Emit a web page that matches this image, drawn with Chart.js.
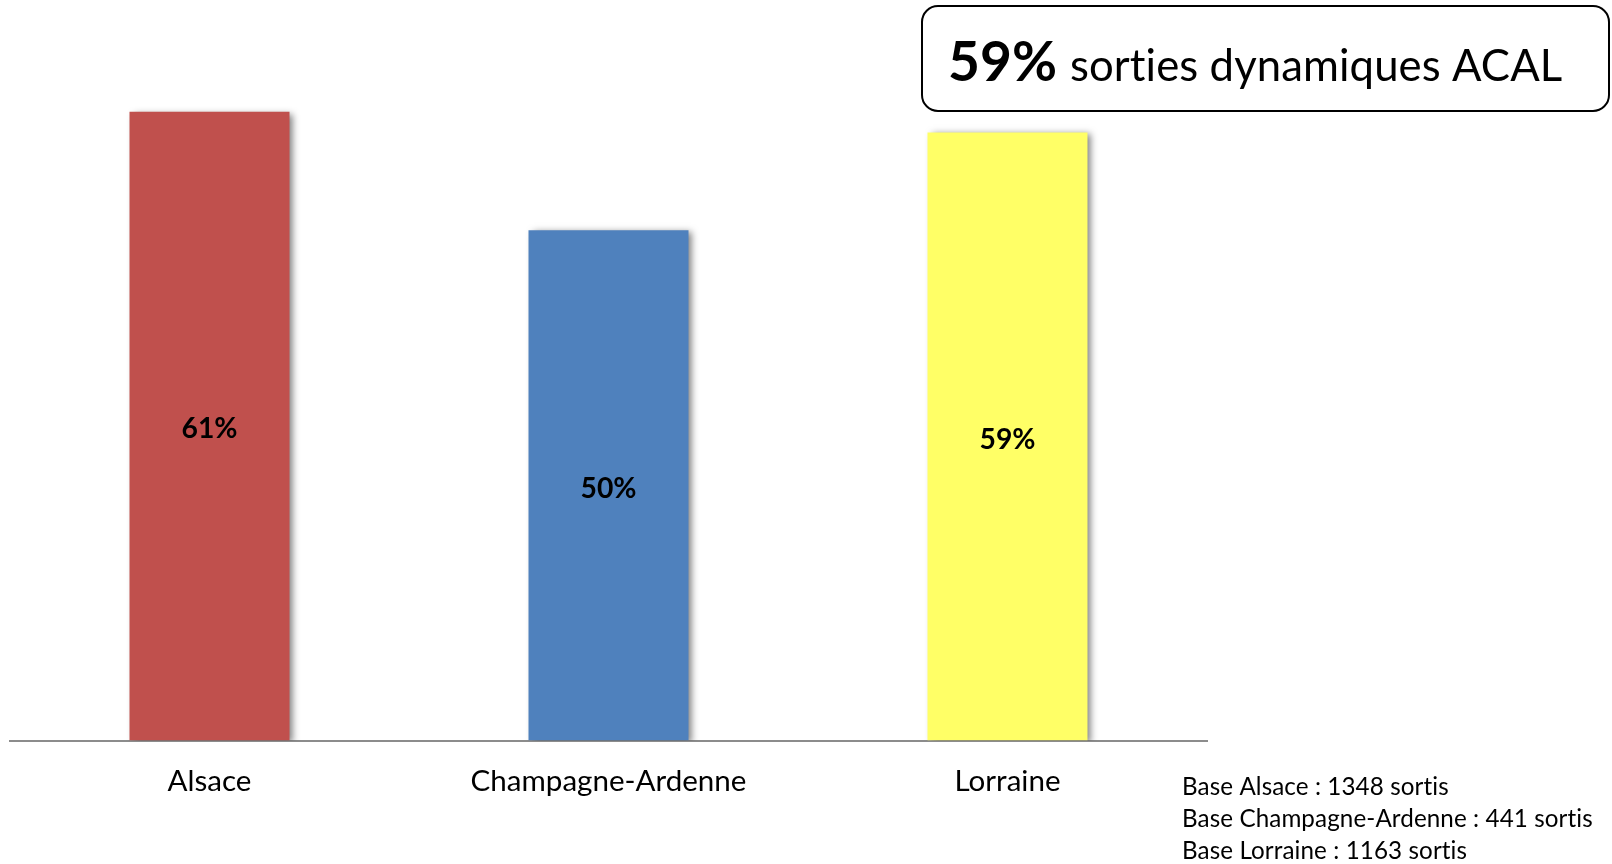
<!DOCTYPE html>
<html>
<head>
<meta charset="utf-8">
<script src="https://cdn.jsdelivr.net/npm/chart.js@4.4.1/dist/chart.umd.min.js"></script>
<style>
  html, body { margin: 0; padding: 0; background: #ffffff; }
  #wrap { position: relative; width: 1612px; height: 864px; }
</style>
</head>
<body>
<div id="wrap"><canvas id="c" width="1612" height="864"></canvas></div>
<script>
// ---- data ----
const categories = ["Alsace", "Champagne-Ardenne", "Lorraine"];
const values = [61, 49.5, 59];
const barColors = ["#C0504D", "#4F81BD", "#FFFF66"];
const headlineValue = "59%";
const headlineText = "sorties dynamiques ACAL";
const baseNotes = [
  "Base Alsace : 1348 sortis",
  "Base Champagne-Ardenne : 441 sortis",
  "Base Lorraine : 1163 sortis"
];

const FAMILY = "Lato, 'Open Sans', sans-serif";
const mctx = document.createElement("canvas").getContext("2d");
function fit(text, weight, target) {
  mctx.font = weight + " 100px " + FAMILY;
  return 100 * target / mctx.measureText(text).width;
}
const tickSize = fit("Champagne-Ardenne", "normal", 276);
const valSize = fit("61%", "bold", 56);
const headBoldSize = fit(headlineValue, "bold", 109);
const headSize = fit(headlineText, "normal", 491);
const noteSize = fit(baseNotes[1], "normal", 408);

const shadowPlugin = {
  id: "barShadow",
  beforeDatasetsDraw(chart) {
    const ctx = chart.ctx;
    ctx.save();
    ctx.shadowColor = "rgba(0,0,0,0.5)";
    ctx.shadowBlur = 7;
    ctx.shadowOffsetX = 4;
    ctx.shadowOffsetY = 2;
  },
  afterDatasetsDraw(chart) {
    const ctx = chart.ctx;
    ctx.restore();
    const meta = chart.getDatasetMeta(0);
    ctx.save();
    ctx.fillStyle = "#000";
    ctx.font = "bold " + valSize + "px " + FAMILY;
    ctx.textAlign = "center";
    ctx.textBaseline = "middle";
    meta.data.forEach((bar, i) => {
      const y = (bar.y + bar.base) / 2 + 3;
      ctx.fillText(Math.round(values[i]) + "%", bar.x, y);
    });
    ctx.restore();
  },
  afterDraw(chart) {
    const ctx = chart.ctx;
    ctx.save();
    ctx.letterSpacing = "0.1px";
    ctx.lineWidth = 2;
    ctx.strokeStyle = "#000";
    ctx.beginPath();
    ctx.roundRect(922, 6, 687, 105, 16);
    ctx.stroke();
    ctx.fillStyle = "#000";
    ctx.textBaseline = "alphabetic";
    ctx.textAlign = "left";
    ctx.font = "bold " + headBoldSize + "px " + FAMILY;
    ctx.fillText(headlineValue, 948, 81);
    ctx.font = "normal " + headSize + "px " + FAMILY;
    ctx.fillText(headlineText, 1070, 81);
    ctx.font = "normal " + noteSize + "px " + FAMILY;
    ctx.textBaseline = "middle";
    baseNotes.forEach((t, i) => ctx.fillText(t, 1182, 787 + i * 32));
    ctx.restore();
  }
};

new Chart(document.getElementById("c"), {
  type: "bar",
  data: {
    labels: categories,
    datasets: [{
      data: values,
      backgroundColor: barColors,
      borderWidth: 0,
      barPercentage: 0.401,
      categoryPercentage: 1.0
    }]
  },
  options: {
    responsive: false,
    animation: false,
    events: [],
    layout: { padding: { left: 10, right: 405, top: 19, bottom: 42 } },
    plugins: { legend: { display: false }, tooltip: { enabled: false } },
    scales: {
      y: { display: false, min: 0, max: 70 },
      x: {
        grid: { display: false, drawTicks: false },
        border: { display: true, color: "#8c8c8c", width: 2 },
        ticks: {
          color: "#000",
          padding: 23,
          font: { family: FAMILY, size: tickSize }
        }
      }
    }
  },
  plugins: [shadowPlugin]
});
</script>
</body>
</html>
